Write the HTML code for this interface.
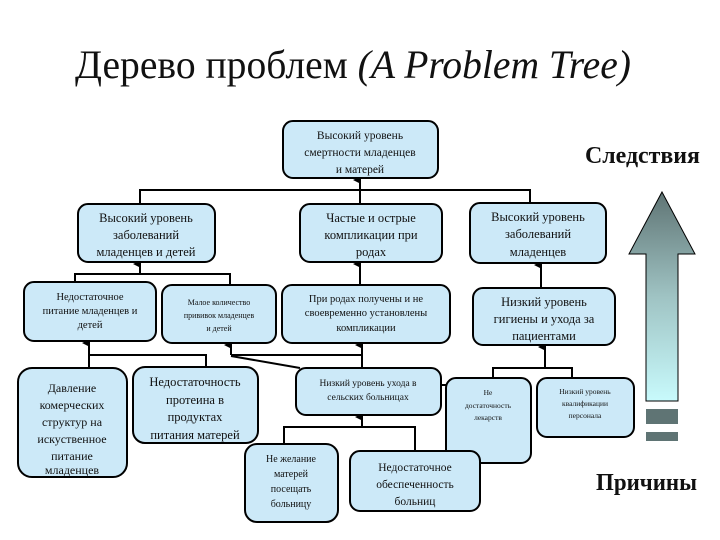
<!DOCTYPE html>
<html><head><meta charset="utf-8"><style>
html,body{margin:0;padding:0;background:#fff;}
svg{display:block}
text{font-family:"Liberation Serif",serif;fill:#111}
</style></head><body>
<svg width="720" height="540" viewBox="0 0 720 540" xmlns="http://www.w3.org/2000/svg">
<defs>
<linearGradient id="g" x1="0" y1="0" x2="0" y2="1">
<stop offset="0" stop-color="#5f7474"/><stop offset="0.5" stop-color="#9fc3c3"/><stop offset="1" stop-color="#c8fafc"/>
</linearGradient>
<marker id="ar" markerWidth="8" markerHeight="8" refX="4" refY="7" orient="auto" markerUnits="userSpaceOnUse">
<path d="M0,8 L4,0 L8,8 z" fill="#000"/></marker>
</defs>
<text x="75" y="78" font-size="40" textLength="556" lengthAdjust="spacingAndGlyphs">Дерево проблем <tspan font-style="italic">(A Problem Tree)</tspan></text>
<text x="585" y="163" font-size="24" font-weight="bold" textLength="115" lengthAdjust="spacingAndGlyphs">Следствия</text>
<text x="596" y="490" font-size="24" font-weight="bold" textLength="101" lengthAdjust="spacingAndGlyphs">Причины</text>

<path d="M662,192 L695,254 L678,254 L678,401 L646,401 L646,254 L629,254 Z" fill="url(#g)" stroke="#000" stroke-width="1"/>
<rect x="646" y="409" width="32" height="15" fill="#5f7474"/>
<rect x="646" y="432" width="32" height="9" fill="#5f7474"/>

<g stroke="#000" stroke-width="2" fill="none">
<line x1="360" y1="190" x2="360" y2="180" marker-end="url(#ar)"/>
<polyline points="140,204 140,190 530,190 530,203"/>
<line x1="360" y1="190" x2="360" y2="204"/>
<line x1="140" y1="274" x2="140" y2="264" marker-end="url(#ar)"/>
<polyline points="75,282 75,274 230,274 230,285"/>
<line x1="360" y1="285" x2="360" y2="264" marker-end="url(#ar)"/>
<line x1="541" y1="288" x2="541" y2="265" marker-end="url(#ar)"/>
<line x1="89" y1="355" x2="89" y2="343" marker-end="url(#ar)"/>
<polyline points="89,368 89,355 206,355 206,367"/>
<line x1="231" y1="355" x2="231" y2="345" marker-end="url(#ar)"/>
<polyline points="231,355 362,355"/>
<line x1="231" y1="356" x2="300" y2="368"/>
<line x1="362" y1="368" x2="362" y2="345" marker-end="url(#ar)"/>
<line x1="362" y1="427" x2="362" y2="417" marker-end="url(#ar)"/>
<polyline points="284,444 284,427 415,427 415,451"/>
<line x1="545" y1="368" x2="545" y2="347" marker-end="url(#ar)"/>
<polyline points="493,378 493,368 572,368 572,378"/>
<line x1="441" y1="385" x2="447" y2="385"/>
</g>

<g fill="#cce9f8" stroke="#000" stroke-width="2">
<rect x="283" y="121" width="155" height="57" rx="10"/>
<rect x="78" y="204" width="137" height="58" rx="10"/>
<rect x="300" y="204" width="142" height="58" rx="10"/>
<rect x="470" y="203" width="136" height="60" rx="10"/>
<rect x="24" y="282" width="132" height="59" rx="10"/>
<rect x="162" y="285" width="114" height="58" rx="10"/>
<rect x="282" y="285" width="168" height="58" rx="10"/>
<rect x="473" y="288" width="142" height="57" rx="10"/>
<rect x="18" y="368" width="109" height="109" rx="14"/>
<rect x="133" y="367" width="125" height="76" rx="12"/>
<rect x="296" y="368" width="145" height="47" rx="10"/>
<rect x="446" y="378" width="85" height="85" rx="10"/>
<rect x="537" y="378" width="97" height="59" rx="10"/>
<rect x="245" y="444" width="93" height="78" rx="12"/>
<rect x="350" y="451" width="130" height="60" rx="10"/>
</g>

<g text-anchor="middle">
<g font-size="11.5"><text x="360" y="139">Высокий уровень</text><text x="360" y="156">смертности младенцев</text><text x="360" y="173">и матерей</text></g>
<g font-size="12.5"><text x="146" y="222">Высокий уровень</text><text x="146" y="239">заболеваний</text><text x="146" y="256">младенцев и детей</text></g>
<g font-size="12.5"><text x="371" y="222">Частые и острые</text><text x="371" y="239">компликации при</text><text x="371" y="256">родах</text></g>
<g font-size="12.5"><text x="538" y="221">Высокий уровень</text><text x="538" y="238">заболеваний</text><text x="538" y="256">младенцев</text></g>
<g font-size="10.5"><text x="90" y="300">Недостаточное</text><text x="90" y="314">питание младенцев и</text><text x="90" y="328">детей</text></g>
<g font-size="8"><text x="219" y="305">Малое количество</text><text x="219" y="318">прививок младенцев</text><text x="219" y="331">и детей</text></g>
<g font-size="10.5"><text x="366" y="302">При родах получены и не</text><text x="366" y="316">своевременно установлены</text><text x="366" y="331">компликации</text></g>
<g font-size="12.5"><text x="544" y="306">Низкий уровень</text><text x="544" y="323">гигиены и ухода за</text><text x="544" y="340">пациентами</text></g>
<g font-size="12"><text x="72" y="392">Давление</text><text x="72" y="409">комерческих</text><text x="72" y="426">структур на</text><text x="72" y="443">искуственное</text><text x="72" y="460">питание</text><text x="72" y="474">младенцев</text></g>
<g font-size="12.5"><text x="195" y="386">Недостаточность</text><text x="195" y="404">протеина в</text><text x="195" y="421">продуктах</text><text x="195" y="439">питания матерей</text></g>
<g font-size="9.5"><text x="368" y="386">Низкий уровень ухода в</text><text x="368" y="400">сельских больницах</text></g>
<g font-size="7.5"><text x="488" y="395">Не</text><text x="488" y="408">достаточность</text><text x="488" y="420">лекарств</text></g>
<g font-size="7.5"><text x="585" y="394">Низкий уровень</text><text x="585" y="406">квалификации</text><text x="585" y="418">персонала</text></g>
<g font-size="10"><text x="291" y="462">Не желание</text><text x="291" y="477">матерей</text><text x="291" y="492">посещать</text><text x="291" y="507">больницу</text></g>
<g font-size="11.5"><text x="415" y="471">Недостаточное</text><text x="415" y="488">обеспеченность</text><text x="415" y="505">больниц</text></g>
</g>
</svg>
</body></html>
